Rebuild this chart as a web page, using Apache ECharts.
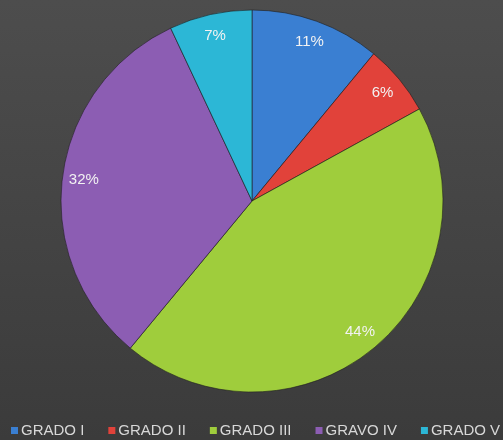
<!DOCTYPE html>
<html>
<head>
<meta charset="utf-8">
<script src="https://cdn.jsdelivr.net/npm/echarts@6/dist/echarts.min.js"></script>
<style>
  html, body { margin: 0; padding: 0; }
  #chart { width: 503px; height: 440px; }
</style>
</head>
<body>
<div id="chart"></div>
<script>
// grados y porcentajes
const categories = ['GRADO I', 'GRADO II', 'GRADO III', 'GRAVO IV', 'GRADO V']
const values = [11, 6, 44, 32, 7]
const colors = ['#3a7fd2', '#e1423a', '#9fcd3c', '#8c5db3', '#2cb7d6']

const chart = echarts.init(document.getElementById('chart'))
const data = categories.map((name, i) => ({ name, value: values[i] }))

chart.setOption({
  backgroundColor: {
    type: 'linear', x: 0, y: 0, x2: 0, y2: 1,
    colorStops: [{ offset: 0, color: '#4d4d4d' }, { offset: 1, color: '#3b3b3b' }]
  },
  color: colors,
  legend: {
    top: 418,
    left: 6,
    width: 500,
    itemWidth: 7,
    itemHeight: 7,
    itemGap: 24,
    icon: 'rect',
    textStyle: { color: '#d8d8d8', fontSize: 15, fontFamily: 'Liberation Sans Narrow, Liberation Sans', padding: [0, 0, 0, -2] },
    data: categories.map((name, i) => ({ name, itemStyle: { color: colors[i], borderWidth: 0 } }))
  },
  series: [
    {
      type: 'pie',
      center: [252, 201],
      radius: [0, 191],
      startAngle: 90,
      clockwise: true,
      silent: true,
      data,
      label: { show: false },
      labelLine: { show: false },
      itemStyle: { borderColor: 'rgba(30,30,30,0.6)', borderWidth: 1 }
    },
    {
      // anillo invisible solo para colocar las etiquetas cerca del borde
      type: 'pie',
      center: [252, 201],
      radius: [142, 191],
      startAngle: 90,
      clockwise: true,
      silent: true,
      data,
      itemStyle: { color: 'transparent' },
      label: {
        show: true,
        position: 'inside',
        formatter: '{c}%',
        color: '#f2f2f2',
        fontSize: 15,
        fontFamily: 'Liberation Sans'
      },
      labelLine: { show: false }
    }
  ]
})
</script>
</body>
</html>
